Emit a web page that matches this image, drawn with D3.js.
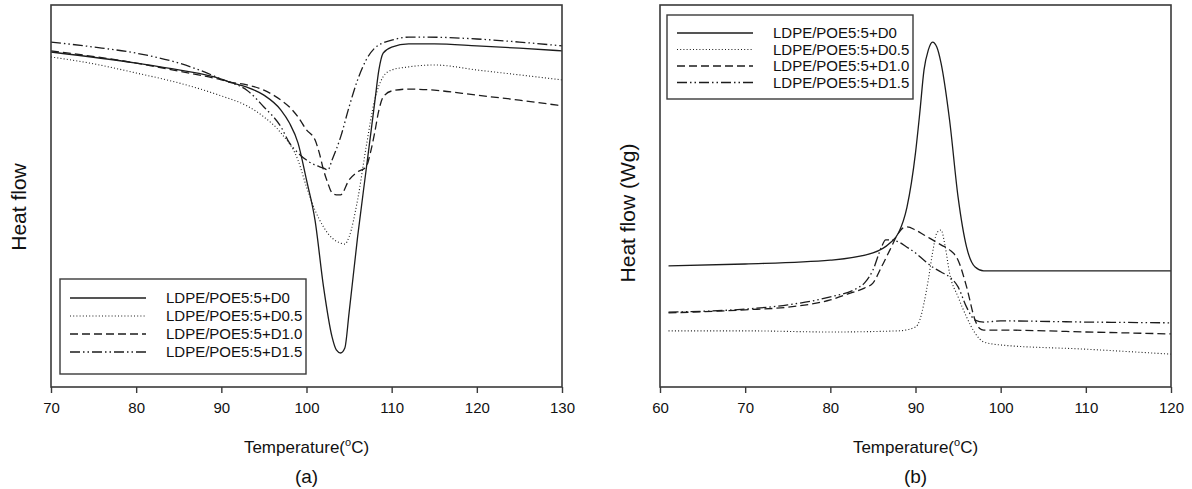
<!DOCTYPE html>
<html>
<head>
<meta charset="utf-8">
<script src="https://cdn.jsdelivr.net/npm/d3@7"></script>
<style>
  body { margin: 0; background: #fff; }
  svg { display: block; font-family: "Liberation Sans", Arial, sans-serif; }
</style>
</head>
<body>
<script>
const seriesNames = ["LDPE/POE5:5+D0", "LDPE/POE5:5+D0.5", "LDPE/POE5:5+D1.0", "LDPE/POE5:5+D1.5"]

// (a) heating scan, relative heat flow (0-100, no units shown)
const tempA_D0 = [70, 80, 85, 90, 91, 93, 95, 97, 98, 99, 100, 101, 102, 103, 103.5, 104, 104.5, 105, 106, 107, 108, 108.5, 109, 110, 112, 115, 120, 125, 130]
const heatA_D0 = [87.7, 84.8, 83.0, 80.6, 79.8, 78.5, 76.4, 72.5, 69.1, 63.9, 54.2, 43.7, 26.2, 13.1, 9.7, 8.9, 10.2, 19.4, 39.3, 56.8, 74.3, 83.0, 87.4, 89.0, 89.8, 89.8, 89.3, 88.7, 88.0]

const tempA_D05 = [70, 75, 80, 85, 90, 93, 95, 97, 99, 100, 101, 102, 103, 104, 104.5, 105, 106, 107, 108, 109, 110, 112, 115, 120, 125, 130]
const heatA_D05 = [86.4, 84.6, 82.2, 79.6, 76.2, 73.6, 70.7, 66.5, 59.4, 52.4, 46.3, 41.9, 39.0, 37.7, 37.4, 39.3, 49.0, 62.8, 75.1, 81.2, 83.0, 83.8, 84.3, 83.0, 81.7, 80.4]

const tempA_D10 = [70, 80, 85, 90, 91, 93, 95, 97, 98, 99, 100, 101, 101.5, 102, 102.5, 103, 103.5, 104, 105, 106, 107, 107.5, 108, 108.5, 109, 110, 112, 115, 120, 125, 130]
const heatA_D10 = [88.0, 84.8, 82.7, 80.4, 79.8, 79.1, 77.7, 75.1, 73.3, 70.7, 67.3, 64.7, 61.3, 56.8, 53.4, 50.8, 50.3, 50.3, 54.2, 56.3, 57.6, 61.3, 66.5, 72.5, 75.9, 77.5, 78.0, 77.7, 76.4, 75.1, 73.6]

const tempA_D15 = [70, 75, 80, 85, 88, 90, 91, 93, 95, 97, 98, 99, 100, 101, 102, 102.5, 103, 104, 105, 106, 107, 108, 109, 110, 112, 114, 120, 125, 130]
const heatA_D15 = [90.3, 89.0, 87.4, 84.8, 82.5, 80.6, 79.8, 77.7, 73.3, 68.1, 63.9, 61.3, 59.4, 58.1, 57.3, 56.8, 59.4, 65.4, 73.3, 80.4, 85.6, 88.7, 90.1, 90.8, 91.6, 91.6, 91.1, 90.3, 89.3]

// (b) cooling scan
const tempB_D0 = [61, 70, 80, 85, 87, 88, 89, 90, 90.5, 91, 91.5, 92, 92.5, 93, 94, 95, 96, 97, 98, 100, 110, 120]
const heatB_D0 = [31.7, 32.2, 33.2, 35.1, 37.7, 40.3, 47.1, 61.3, 71.7, 83.0, 88.2, 90.3, 89.0, 84.8, 69.9, 49.7, 36.6, 31.4, 30.4, 30.4, 30.4, 30.4]

const tempB_D05 = [61, 70, 80, 88, 90, 90.5, 91, 91.5, 92, 92.5, 93, 93.5, 94, 95, 96, 97, 98, 100, 110, 120]
const heatB_D05 = [14.7, 14.7, 14.4, 14.7, 15.7, 17.5, 22.0, 28.0, 35.1, 40.3, 41.1, 36.6, 29.8, 23.6, 18.3, 14.1, 11.8, 11.0, 9.9, 8.6]

const tempB_D10 = [61, 70, 75, 80, 82, 84, 85, 86, 87, 88, 88.5, 89, 90, 91, 92, 93, 94, 95, 96, 97, 97.5, 98, 100, 110, 120]
const heatB_D10 = [19.4, 20.2, 20.9, 22.8, 24.3, 25.9, 27.2, 31.4, 35.9, 40.3, 41.6, 41.9, 41.1, 39.8, 38.5, 37.2, 35.9, 33.2, 26.2, 17.5, 15.4, 14.9, 14.9, 14.4, 13.9]

const tempB_D15 = [61, 70, 75, 80, 83, 84, 85, 86, 86.5, 87, 88, 89, 90, 91, 92, 93, 94, 95, 96, 97, 98, 100, 110, 120]
const heatB_D15 = [19.6, 20.4, 21.5, 23.6, 25.7, 27.2, 30.6, 36.6, 38.5, 38.5, 38.0, 36.6, 35.1, 33.2, 31.4, 30.1, 28.8, 26.2, 20.9, 17.5, 17.0, 17.3, 17.0, 16.8]

const ticksA = [70, 80, 90, 100, 110, 120, 130]
const ticksB = [60, 70, 80, 90, 100, 110, 120]

const dashes = [null, "1,2.2", "8,4", "10,3,1.5,3,1.5,3"]

const W = 1192, H = 489
const svg = d3.select("body").append("svg")
  .attr("width", W)
  .attr("height", H)

function panel(cfg) {
  const x = d3.scaleLinear().domain(cfg.domain).range([cfg.left, cfg.right])
  const y = d3.scaleLinear().domain([0, 100]).range([387, 5])
  const g = svg.append("g")

  const line = d3.line()
    .x(d => x(d[0]))
    .y(d => y(d[1]))
    .curve(d3.curveMonotoneX)

  cfg.series.forEach((s, i) => {
    g.append("path")
      .datum(d3.zip(s[0], s[1]))
      .attr("d", line)
      .attr("fill", "none")
      .attr("stroke", "#1c1c1c")
      .attr("stroke-width", i == 1 ? 1.1 : 1.3)
      .attr("stroke-dasharray", dashes[i])
  })

  // frame
  g.append("rect")
    .attr("x", cfg.left)
    .attr("y", 5)
    .attr("width", cfg.right - cfg.left)
    .attr("height", 382)
    .attr("fill", "none")
    .attr("stroke", "#3a3a3a")
    .attr("stroke-width", 1.6)

  const ax = g.append("g")
    .attr("transform", "translate(0,387)")
    .call(d3.axisBottom(x).tickValues(cfg.ticks).tickSize(6).tickPadding(9).tickSizeOuter(0))
  ax.select(".domain").remove()
  ax.selectAll(".tick line").attr("stroke", "#3a3a3a").attr("stroke-width", 1.4)
  ax.selectAll(".tick text")
    .attr("font-size", 15)
    .attr("font-family", "Liberation Sans, Arial, sans-serif")
    .attr("fill", "#111")

  const cx = (cfg.left + cfg.right) / 2
  const xt = g.append("text")
    .attr("x", cx)
    .attr("y", 453)
    .attr("text-anchor", "middle")
    .attr("font-size", 17)
    .attr("fill", "#111")
  xt.append("tspan").text("Temperature(")
  xt.append("tspan").text("o").attr("font-size", 11).attr("dy", -7)
  xt.append("tspan").text("C)").attr("dy", 7)

  g.append("text")
    .attr("x", cx)
    .attr("y", 483)
    .attr("text-anchor", "middle")
    .attr("font-size", 19)
    .attr("fill", "#111")
    .text(cfg.tag)

  g.append("text")
    .attr("transform", `translate(${cfg.ylabX},${cfg.ylabY}) rotate(-90)`)
    .attr("text-anchor", "middle")
    .attr("dy", "0.35em")
    .attr("font-size", 21)
    .attr("fill", "#111")
    .text(cfg.ylabel)

  // legend
  const lg = cfg.legend
  g.append("rect")
    .attr("x", lg.x)
    .attr("y", lg.y)
    .attr("width", lg.w)
    .attr("height", lg.h)
    .attr("fill", "#fff")
    .attr("stroke", "#3a3a3a")
    .attr("stroke-width", 1.4)

  seriesNames.forEach((name, i) => {
    const ry = lg.row0 + i * lg.step
    g.append("line")
      .attr("x1", lg.x + 10)
      .attr("x2", lg.x + 86)
      .attr("y1", ry)
      .attr("y2", ry)
      .attr("stroke", "#1c1c1c")
      .attr("stroke-width", i == 1 ? 1.1 : 1.3)
      .attr("stroke-dasharray", dashes[i])
    g.append("text")
      .attr("x", lg.x + 106)
      .attr("y", ry)
      .attr("dy", "0.36em")
      .attr("font-size", 15)
      .attr("fill", "#111")
      .text(name)
  })
}

panel({
  left: 51, right: 562,
  domain: [70, 130],
  ticks: ticksA,
  series: [[tempA_D0, heatA_D0], [tempA_D05, heatA_D05], [tempA_D10, heatA_D10], [tempA_D15, heatA_D15]],
  tag: "(a)",
  ylabel: "Heat flow",
  ylabX: 19, ylabY: 207,
  legend: { x: 60, y: 279, w: 246, h: 95, row0: 298, step: 18 }
})

panel({
  left: 660, right: 1171,
  domain: [60, 120],
  ticks: ticksB,
  series: [[tempB_D0, heatB_D0], [tempB_D05, heatB_D05], [tempB_D10, heatB_D10], [tempB_D15, heatB_D15]],
  tag: "(b)",
  ylabel: "Heat flow (Wg)",
  ylabX: 628, ylabY: 213,
  legend: { x: 667, y: 15, w: 246, h: 84, row0: 33, step: 16.5 }
})
</script>
</body>
</html>
